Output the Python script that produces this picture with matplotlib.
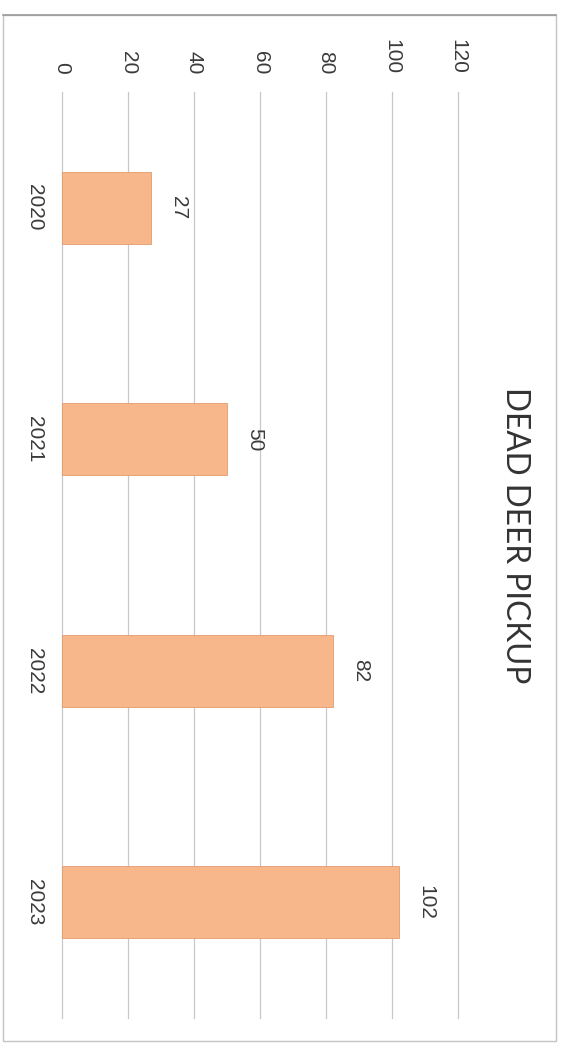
import matplotlib
matplotlib.use("Agg")
import matplotlib.pyplot as plt
from matplotlib.patches import Rectangle

# Data
years = ["2020", "2021", "2022", "2023"]
pickups = [27, 50, 82, 102]
value_ticks = [0, 20, 40, 60, 80, 100, 120]
title = "DEAD DEER PICKUP"

W, H = 563, 1046
DPI = 100
fig = plt.figure(figsize=(W / DPI, H / DPI), dpi=DPI)
fig.patch.set_facecolor("white")

def px(x0, y0, x1, y1):
    """Pixel box (top-left origin) -> figure fraction rect."""
    return [x0 / W, 1 - y1 / H, (x1 - x0) / W, (y1 - y0) / H]

# Chart-area frame
frame = Rectangle((3 / W, 1 - 1041 / H), (556 - 3) / W, (1041 - 15) / H,
                  transform=fig.transFigure, fill=False,
                  edgecolor="#C4C4C4", linewidth=1.0)
fig.patches.append(frame)
fig.add_artist(plt.Line2D([3 / W, 556 / W], [1 - 15 / H, 1 - 15 / H],
                          transform=fig.transFigure, color="#9A9A9A", lw=1.2))

ax = fig.add_axes(px(62, 92, 458, 1018))
ax.set_facecolor("none")

text_color = "#3A3A3A"
num_font = "Liberation Sans"

pos = list(range(len(years)))
bars = ax.barh(pos, pickups, height=0.31, color="#F8B78B",
               edgecolor="#E39B6C", linewidth=0.6, zorder=3)

ax.set_xlim(0, 120)
ax.set_ylim(len(years) - 0.5, -0.5)

ax.set_xticks(value_ticks)
ax.xaxis.tick_top()
ax.set_xticklabels([str(v) for v in value_ticks], rotation=-90,
                   fontsize=15, family=num_font, color=text_color)
ax.tick_params(axis="x", length=0, pad=13)

ax.set_yticks(pos)
ax.set_yticklabels(years, rotation=-90, fontsize=15, family=num_font,
                   color=text_color, va="center")
ax.tick_params(axis="y", length=0, pad=13)

ax.grid(axis="x", color="#C8C8C8", linewidth=0.9, zorder=0)
ax.grid(axis="y", visible=False)
for gl in ax.get_xgridlines():
    gl.set_clip_on(False)
for s in ax.spines.values():
    s.set_visible(False)

for i, v in enumerate(pickups):
    ax.annotate(str(v), xy=(v, i), xytext=(13, 0), textcoords="offset points",
                rotation=-90, ha="left", va="center", fontsize=15,
                family=num_font, color=text_color)

fig.text(515 / W, 1 - 535 / H, title, rotation=-90, ha="center",
         va="center", fontsize=22.8, family="Lato", color="#333333")

fig.savefig("out.png", dpi=DPI)
